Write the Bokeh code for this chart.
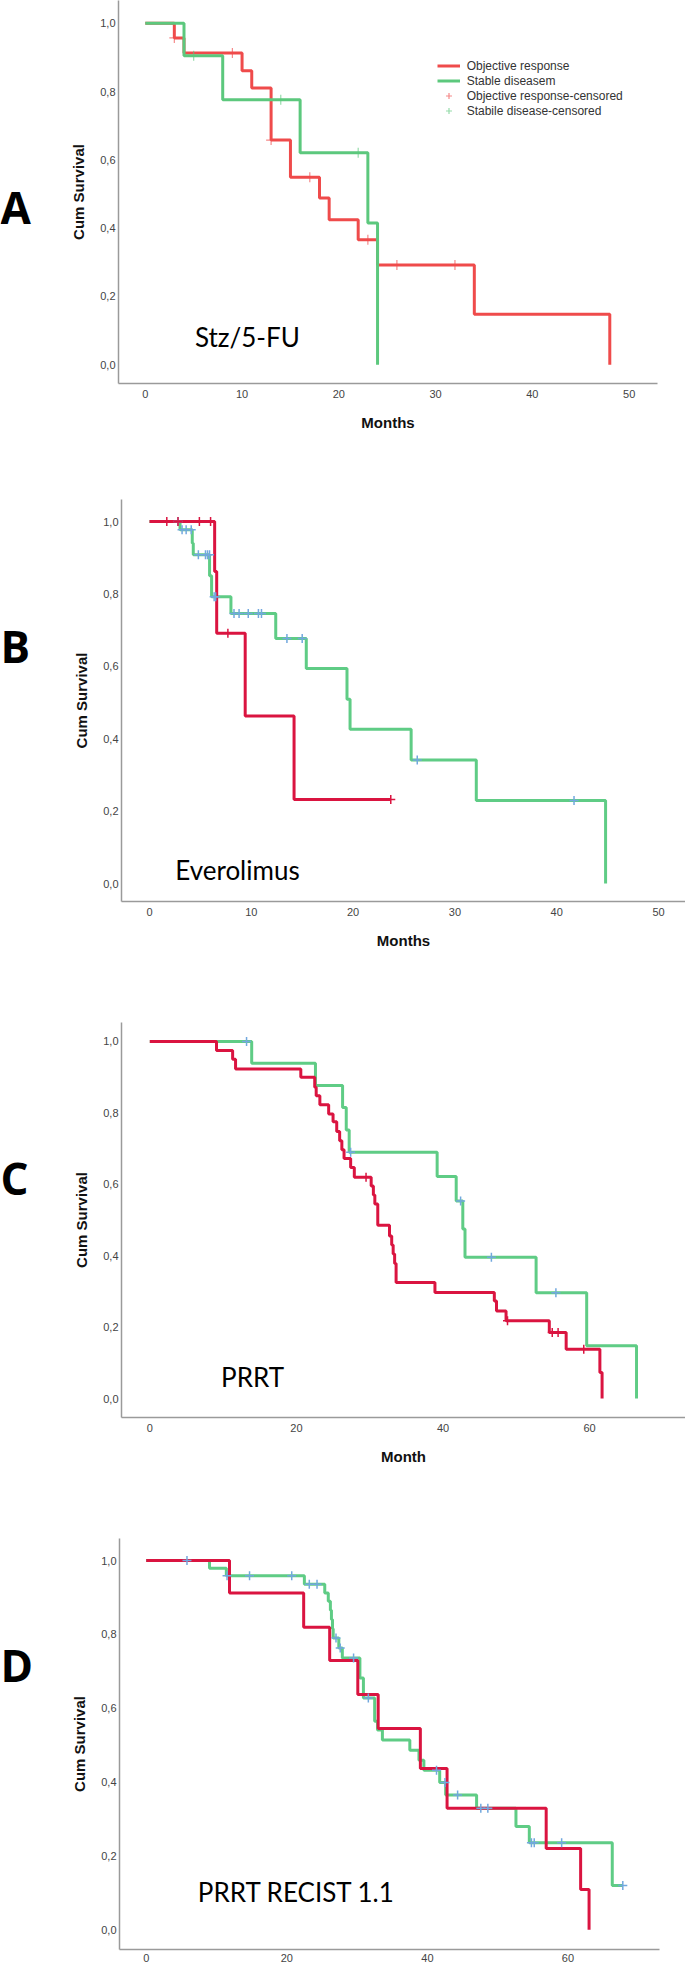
from bokeh.plotting import figure
from bokeh.layouts import column, row
from bokeh.models import (Range1d, FixedTicker, CustomJSTickFormatter, Legend,
                          LegendItem, Label)
from bokeh.core.properties import value
from bokeh.embed import file_html
from bokeh.resources import INLINE

# ---------------- data (Kaplan-Meier curves) -------------
# Panel A  Stz/5-FU
A_or_t = [0, 3, 4, 10, 11, 13, 15, 18, 19, 22, 24, 34, 48]
A_or_s = [1.0, 0.957, 0.913, 0.861, 0.81, 0.658, 0.549, 0.488, 0.425, 0.366, 0.292, 0.148, 0.0]
A_or_cens_t = [3, 9, 13, 17, 23, 26, 32]
A_or_cens_s = [0.957, 0.913, 0.658, 0.549, 0.366, 0.292, 0.292]
A_sd_t = [0, 4, 8, 16, 23, 24]
A_sd_s = [1.0, 0.905, 0.776, 0.621, 0.415, 0.0]
A_sd_cens_t = [5, 14, 22]
A_sd_cens_s = [0.905, 0.776, 0.621]

# Panel B  Everolimus
B_or_t = [0, 6.4, 6.6, 9.4, 14.2, 23.7]
B_or_s = [1.0, 0.862, 0.691, 0.463, 0.232, 0.232]
B_or_cens_t = [1.7, 2.8, 4.9, 6.0, 7.7, 23.7]
B_or_cens_s = [1.0, 1.0, 1.0, 1.0, 0.691, 0.232]
B_sd_t = [0, 3.0, 4.2, 4.3, 5.9, 6.1, 8.0, 12.4, 15.4, 19.4, 19.7, 25.7, 32.1, 44.8]
B_sd_s = [1.0, 0.977, 0.94, 0.908, 0.85, 0.792, 0.746, 0.677, 0.594, 0.509, 0.426, 0.341, 0.229, 0.0]
B_sd_cens_t = [2.8, 3.2, 3.6, 4.1, 4.8, 5.5, 5.7, 5.9, 6.35, 6.5, 8.3, 8.8, 9.7, 10.7, 11.0, 13.5, 15.0, 26.3, 41.7]
B_sd_cens_s = [1.0, 0.977, 0.977, 0.977, 0.908, 0.908, 0.908, 0.908, 0.792, 0.792, 0.746, 0.746,
               0.746, 0.746, 0.746, 0.677, 0.677, 0.341, 0.229]

# Panel C  PRRT
C_or_t = [0, 9.1, 11.3, 11.7, 20.6, 22.5, 22.7, 23.2, 24.4, 25.0, 25.5, 25.9, 26.2, 26.5, 27.4,
          27.9, 30.2, 30.5, 30.7, 31.1, 32.7, 33.0, 33.2, 33.4, 33.6, 38.9, 47.0, 47.3, 48.6,
          54.5, 56.8, 61.4, 61.7]
C_or_s = [1.0, 0.975, 0.95, 0.923, 0.90, 0.872, 0.848, 0.823, 0.797, 0.775, 0.748, 0.722, 0.697,
          0.672, 0.647, 0.62, 0.595, 0.57, 0.545, 0.485, 0.455, 0.43, 0.405, 0.378, 0.325, 0.297,
          0.273, 0.245, 0.218, 0.185, 0.138, 0.073, 0.0]
C_or_cens_t = [29.5, 48.8, 54.9, 55.7, 59.2]
C_or_cens_s = [0.62, 0.218, 0.185, 0.185, 0.138]
C_sd_t = [0, 13.9, 22.6, 26.3, 26.8, 27.2, 39.2, 41.8, 42.7, 43.0, 52.7, 59.6, 66.4]
C_sd_s = [1.0, 0.939, 0.877, 0.815, 0.752, 0.69, 0.622, 0.553, 0.475, 0.396, 0.296, 0.148, 0.0]
C_sd_cens_t = [13.2, 27.4, 42.4, 46.6, 55.4]
C_sd_cens_s = [1.0, 0.69, 0.553, 0.396, 0.296]

# Panel D  PRRT RECIST 1.1
D_or_t = [0, 11.85, 22.4, 26.1, 30.1, 33.0, 39.0, 42.8, 56.9, 61.8, 63.0]
D_or_s = [1.0, 0.912, 0.819, 0.729, 0.637, 0.545, 0.437, 0.329, 0.22, 0.109, 0.0]
D_sd_t = [0, 9.0, 11.4, 22.5, 25.4, 25.9, 26.2, 26.35, 26.5, 26.6, 27.4, 27.9, 30.4, 30.9,
          32.5, 32.9, 33.6, 37.5, 38.8, 39.5, 41.75, 42.6, 47.0, 52.6, 54.5, 66.3, 67.8]
D_sd_s = [1.0, 0.979, 0.959, 0.936, 0.912, 0.89, 0.865, 0.84, 0.815, 0.79, 0.763, 0.736, 0.682,
          0.628, 0.565, 0.541, 0.514, 0.486, 0.459, 0.432, 0.399, 0.365, 0.329, 0.28, 0.236,
          0.12, 0.12]
D_sd_cens_t = [5.8, 11.5, 14.7, 20.7, 23.2, 24.3, 27.0, 27.6, 29.5, 31.6, 41.3, 42.5, 44.3,
               47.6, 48.6, 54.8, 55.2, 59.1, 67.8]
D_sd_cens_s = [1.0, 0.959, 0.959, 0.959, 0.936, 0.936, 0.79, 0.763, 0.736, 0.628, 0.432, 0.399,
               0.365, 0.329, 0.329, 0.236, 0.236, 0.236, 0.12]

Y_TICKS = [0.0, 0.2, 0.4, 0.6, 0.8, 1.0]
X_TICKS_AB = [0, 10, 20, 30, 40, 50]
X_TICKS_CD = [0, 20, 40, 60]
LEGEND_LABELS = ["Objective response", "Stable diseasem",
                 "Objective response-censored", "Stabile disease-censored"]

# ---------------- styles ----------------
SANS = "Liberation Sans"
A_RED, A_GREEN = "#EF4B4B", "#5CC87D"
RED, GREEN, BLUE = "#DA1440", "#5FCC85", "#72A8DE"
AXIS_COL = "#9a9a9a"
W = 685
LW = 40          # width of the strip that carries the panel letter


def make_panel(height, bl, br, bt, bb, xr, yr, xticks, xlabel, letter, letter_y,
               title, title_x, title_y, label_standoff=6):
    p = figure(width=W - LW, height=height, output_backend="svg", toolbar_location=None,
               x_range=Range1d(*xr), y_range=Range1d(*yr),
               min_border_left=bl - LW, min_border_right=br, min_border_top=bt,
               min_border_bottom=bb)
    p.grid.visible = False
    p.outline_line_color = None
    p.border_fill_color = "white"
    p.background_fill_color = "white"
    for ax in (p.xaxis[0], p.yaxis[0]):
        ax.axis_line_color = AXIS_COL
        ax.axis_line_width = 1.5
        ax.major_tick_line_color = None
        ax.minor_tick_line_color = None
        ax.major_tick_out = 0
        ax.major_tick_in = 0
        ax.minor_tick_out = 0
        ax.minor_tick_in = 0
        ax.major_label_text_font = SANS
        ax.major_label_text_font_size = "11px"
        ax.major_label_text_color = "#444444"
        ax.axis_label_text_font = SANS
        ax.axis_label_text_font_size = "15px"
        ax.axis_label_text_font_style = "bold"
        ax.axis_label_text_color = "#111111"
    p.xaxis.ticker = FixedTicker(ticks=xticks)
    p.yaxis.ticker = FixedTicker(ticks=Y_TICKS)
    p.yaxis.formatter = CustomJSTickFormatter(code="return tick.toFixed(1).replace('.', ',');")
    p.yaxis.axis_label = "Cum Survival"
    p.yaxis.major_label_standoff = 3
    p.yaxis.axis_label_standoff = 10
    p.xaxis.major_label_standoff = label_standoff
    if xlabel:
        p.xaxis.axis_label = xlabel
        p.xaxis.axis_label_standoff = 13
    p.add_layout(Label(x=title_x, y=title_y, text=title, text_font="Lato",
                       text_font_size="26px", text_color="black",
                       text_baseline="alphabetic", text_align="left"))

    # narrow strip on the left with the panel letter, sharing the y scale
    s = figure(width=LW, height=height, output_backend="svg", toolbar_location=None,
               x_range=Range1d(0, 1), y_range=p.y_range,
               x_axis_location=None, y_axis_location=None,
               min_border_left=0, min_border_right=0, min_border_top=bt, min_border_bottom=bb)
    s.grid.visible = False
    s.outline_line_color = None
    s.text(x=[0], y=[letter_y], text=[letter], text_font=value("Open Sans"),
           text_font_style="bold", text_font_size="44px", text_color="black",
           text_baseline="middle", text_align="left")
    return s, p


# ---------------- Panel A ----------------
sA, pA = make_panel(470, 118, 28, 0, 87, (-2.769, 52.93), (-0.0547, 1.0665), X_TICKS_AB,
                    "Months", "A", 0.463, "Stz/5-FU", 5.13, 0.081)
rA_or = pA.step(A_or_t, A_or_s, mode="after", line_width=3, line_color=A_RED)
rA_sd = pA.step(A_sd_t, A_sd_s, mode="after", line_width=3, line_color=A_GREEN)
cA_or = pA.scatter(A_or_cens_t, A_or_cens_s, marker="cross", size=10, line_width=1.2,
                   line_color=A_RED, line_alpha=0.65)
cA_sd = pA.scatter(A_sd_cens_t, A_sd_cens_s, marker="cross", size=10, line_width=1.2,
                   line_color=A_GREEN, line_alpha=0.65)
dA_or = pA.line([], [], line_color=A_RED, line_alpha=0.65, line_width=1.2)
dA_sd = pA.line([], [], line_color=A_GREEN, line_alpha=0.65, line_width=1.2)
legend = Legend(items=[LegendItem(label=LEGEND_LABELS[0], renderers=[rA_or]),
                       LegendItem(label=LEGEND_LABELS[1], renderers=[rA_sd]),
                       LegendItem(label=LEGEND_LABELS[2], renderers=[dA_or, cA_or]),
                       LegendItem(label=LEGEND_LABELS[3], renderers=[dA_sd, cA_sd])],
                location=(318.7, 265), padding=0, margin=0, spacing=0,
                glyph_width=23, glyph_height=15, label_height=15, label_standoff=7,
                label_text_font=SANS, label_text_font_size="12px",
                label_text_color="#333333", background_fill_alpha=0,
                border_line_color=None)
pA.add_layout(legend)

# ---------------- Panel B ----------------
sB, pB = make_panel(520, 121, 0, 29, 89, (-2.75, 52.65), (-0.0497, 1.0608), X_TICKS_AB,
                    "Months", "B", 0.657, "Everolimus", 2.53, 0.036)
pB.step(B_sd_t, B_sd_s, mode="after", line_width=3, line_color=GREEN)
pB.step(B_or_t, B_or_s, mode="after", line_width=3, line_color=RED)
pB.scatter(B_sd_cens_t, B_sd_cens_s, marker="cross", size=9, line_width=1.5, line_color=BLUE)
pB.scatter(B_or_cens_t, B_or_cens_s, marker="cross", size=9, line_width=1.5, line_color=RED)

# ---------------- Panel C ----------------
sC, pC = make_panel(510, 121, 0, 32, 83, (-3.86, 73.08), (-0.0532, 1.0532), X_TICKS_CD,
                    "Month", "C", 0.619, "PRRT", 9.73, 0.059)
pC.step(C_sd_t, C_sd_s, mode="after", line_width=3, line_color=GREEN)
pC.step(C_or_t, C_or_s, mode="after", line_width=3, line_color=RED)
pC.scatter(C_sd_cens_t, C_sd_cens_s, marker="cross", size=9, line_width=1.5, line_color=BLUE)
pC.scatter(C_or_cens_t, C_or_cens_s, marker="cross", size=9, line_width=1.5, line_color=RED)

# ---------------- Panel D ----------------
sD, pD = make_panel(466, 119, 26, 38, 17, (-3.80, 73.02), (-0.0533, 1.0596), X_TICKS_CD,
                    None, "D", 0.716, "PRRT RECIST 1.1", 7.34, 0.102, label_standoff=4)
pD.step(D_sd_t, D_sd_s, mode="after", line_width=3, line_color=GREEN)
pD.step(D_or_t, D_or_s, mode="after", line_width=3, line_color=RED)
pD.scatter(D_sd_cens_t, D_sd_cens_s, marker="cross", size=9, line_width=1.5, line_color=BLUE)

layout = column(row(sA, pA, spacing=0), row(sB, pB, spacing=0),
                row(sC, pC, spacing=0), row(sD, pD, spacing=0), spacing=0)
open("out.html", "w").write(file_html(layout, INLINE))
